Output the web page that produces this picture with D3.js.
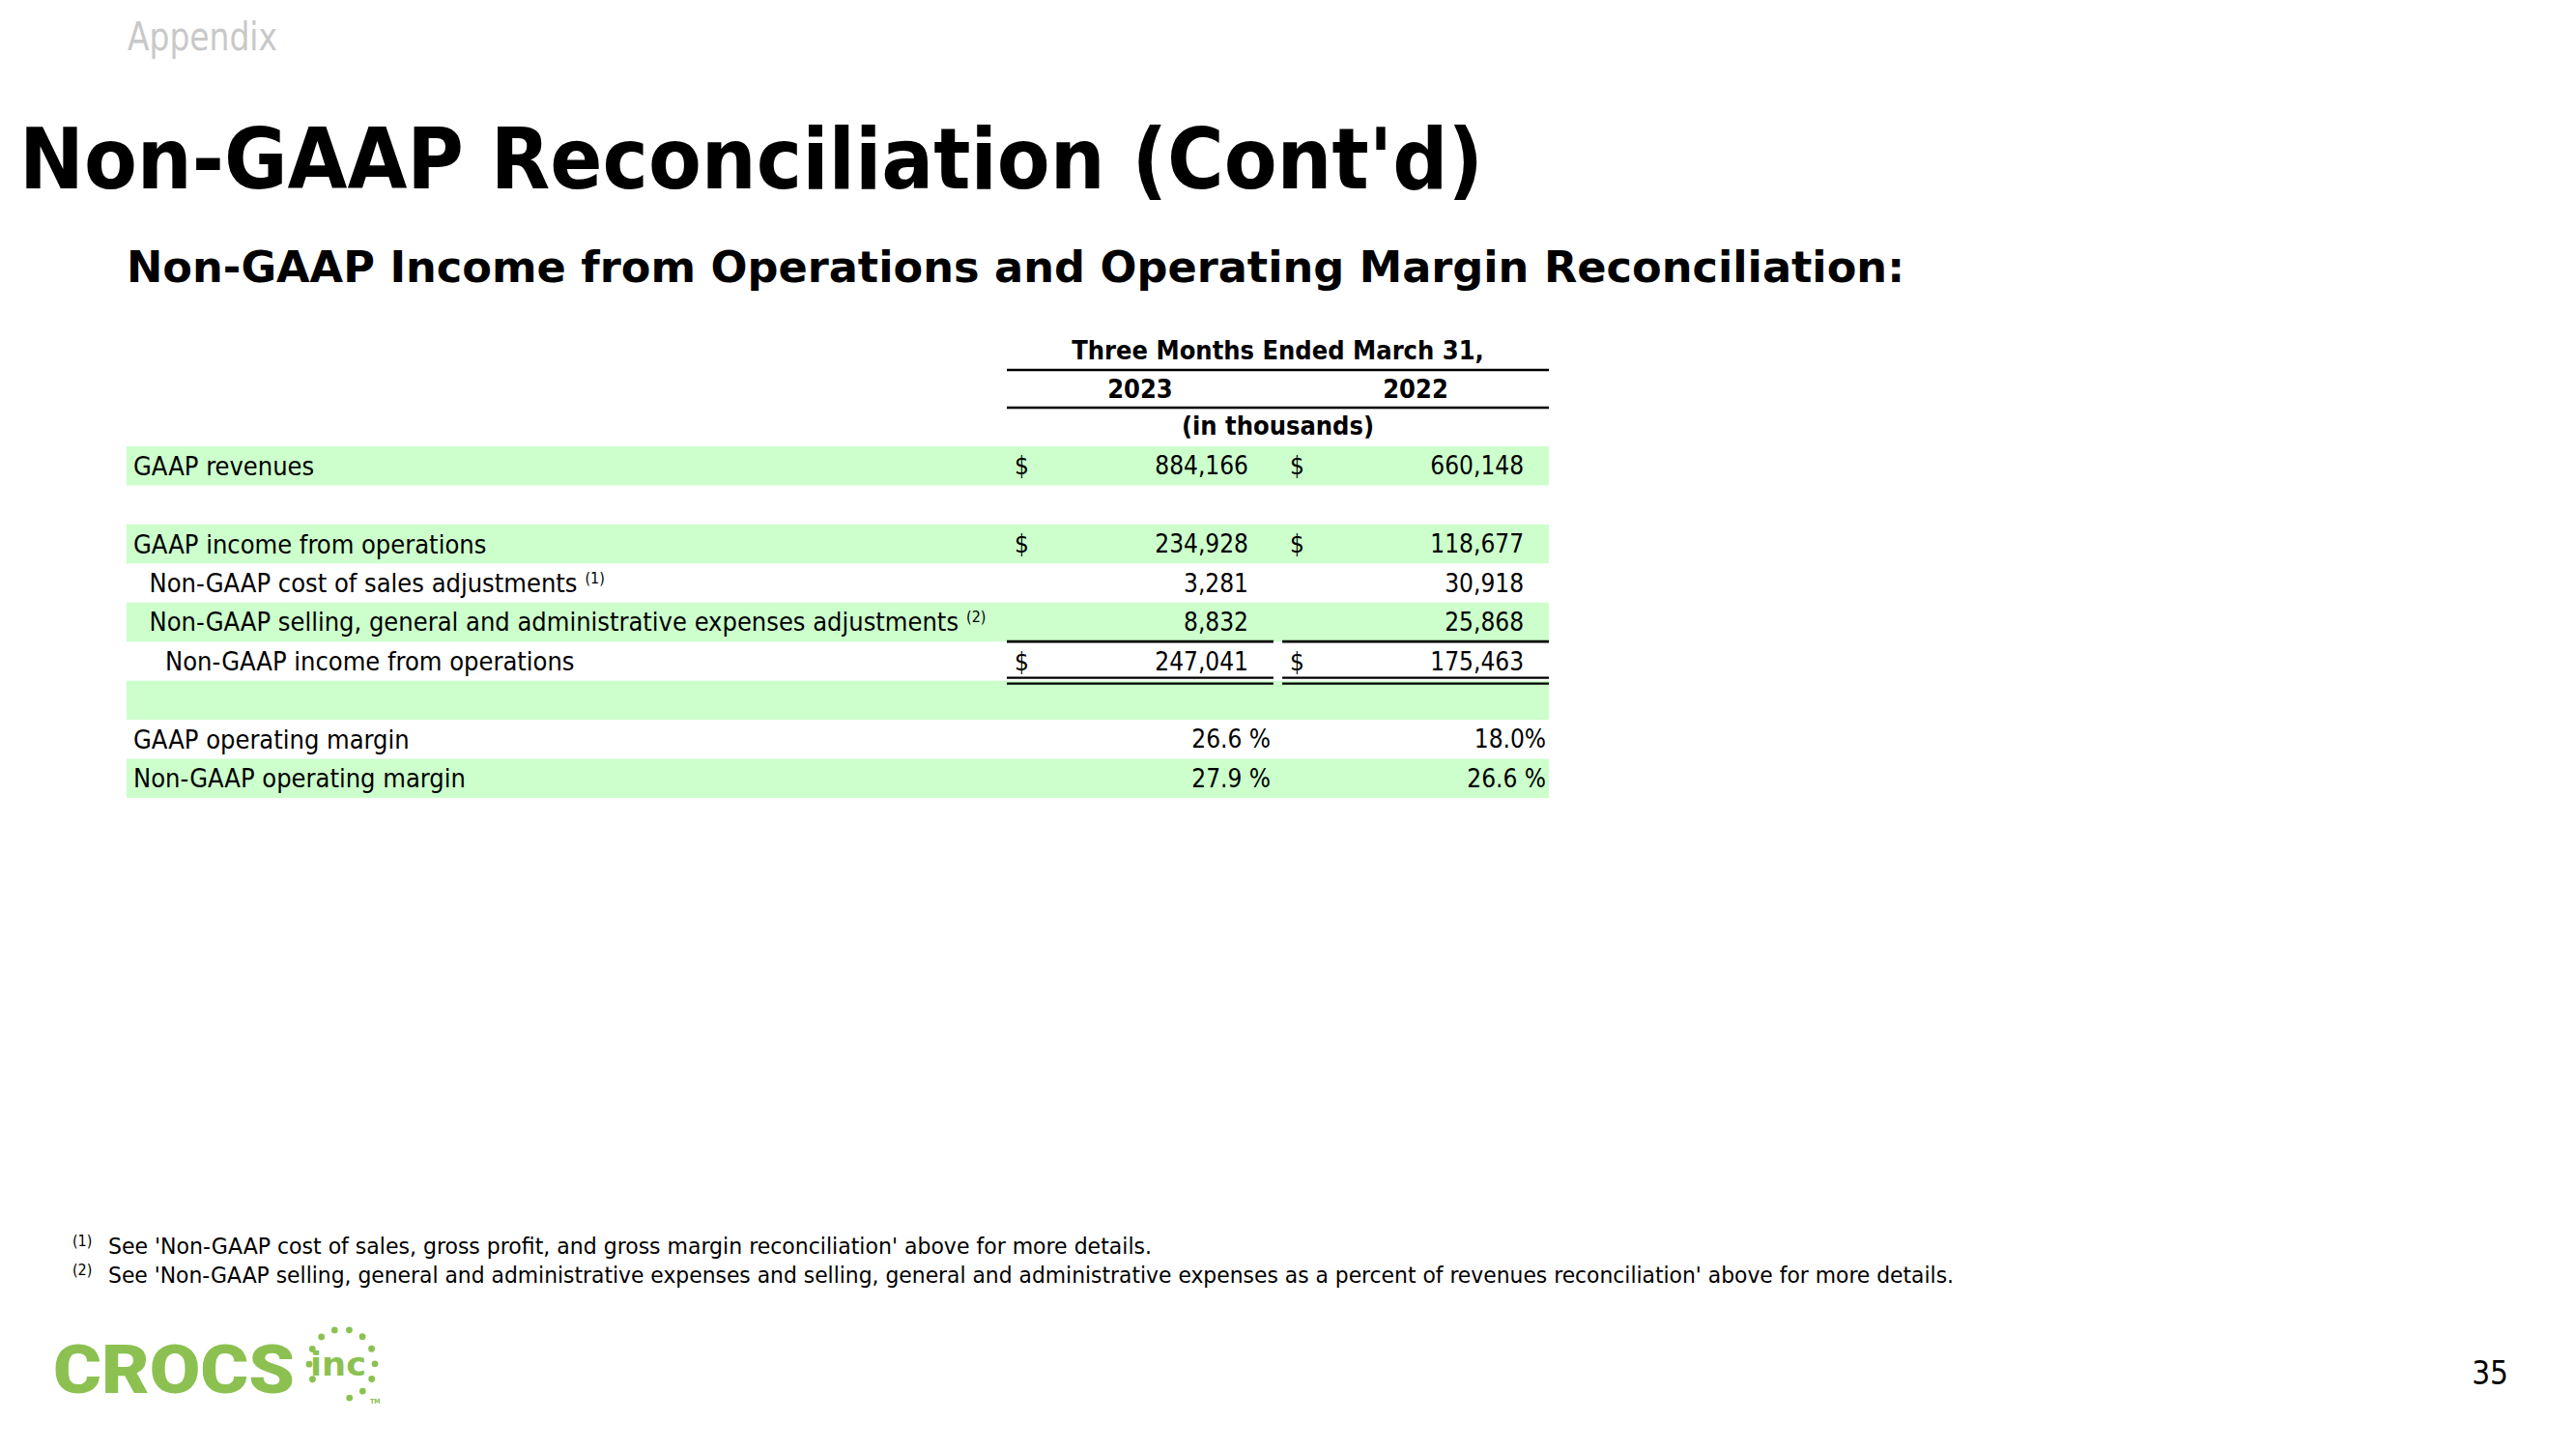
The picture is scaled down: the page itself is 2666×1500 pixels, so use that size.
<!DOCTYPE html>
<html>
<head>
    <script src="https://cdnjs.cloudflare.com/ajax/libs/d3/7.8.5/d3.min.js"></script>
    <style>
      body { margin: 0; background: #fff; }
      text { font-family: 'DejaVu Sans Condensed', 'DejaVu Sans', sans-serif; font-stretch: condensed; }
    </style>
</head>
<body>
    <svg id="slide" width="2666" height="1500"></svg>
    <script>
      // table data
      let years = ['2023', '2022']
      let rowLabels = [
        'GAAP revenues',
        '',
        'GAAP income from operations',
        'Non-GAAP cost of sales adjustments',
        'Non-GAAP selling, general and administrative expenses adjustments',
        'Non-GAAP income from operations',
        '',
        'GAAP operating margin',
        'Non-GAAP operating margin'
      ]
      let rowLevel = [0, 0, 0, 1, 1, 2, 0, 0, 0]
      let rowNote = ['', '', '', '(1)', '(2)', '', '', '', '']
      let rowDollar = [true, false, true, false, false, true, false, false, false]
      let values2023 = [884166, null, 234928, 3281, 8832, 247041, null, null, null]
      let values2022 = [660148, null, 118677, 30918, 25868, 175463, null, null, null]
      let margin2023 = [null, null, null, null, null, null, null, '26.6 %', '27.9 %']
      let margin2022 = [null, null, null, null, null, null, null, '18.0%', '26.6 %']
      let footnotes = [
        ['(1)', "See 'Non-GAAP cost of sales, gross profit, and gross margin reconciliation' above for more details."],
        ['(2)', "See 'Non-GAAP selling, general and administrative expenses and selling, general and administrative expenses as a percent of revenues reconciliation' above for more details."]
      ]

      let svg = d3.select('#slide')
      let fmt = d3.format(',')

      // squeeze a text to the width measured on the slide
      function fit(sel, w) {
        sel.attr('textLength', w).attr('lengthAdjust', 'spacingAndGlyphs')
        return sel
      }

      // header texts
      fit(svg.append('text').attr('x', 132).attr('y', 52)
        .style('font-size', '40px').style('fill', '#c8c8c8')
        .text('Appendix'), 155)

      fit(svg.append('text').attr('x', 20).attr('y', 195)
        .style('font-size', '87px').style('font-weight', 'bold')
        .text("Non-GAAP Reconciliation (Cont'd)"), 1515)

      fit(svg.append('text').attr('x', 131).attr('y', 292)
        .style('font-size', '44px').style('font-weight', 'bold')
        .text('Non-GAAP Income from Operations and Operating Margin Reconciliation:'), 1840)

      // scales
      let rowScale = d3.scaleBand().domain(d3.range(rowLabels.length)).range([462, 826])
      let colScale = d3.scaleBand().domain(years).range([1042, 1603]).paddingInner(0.032)
      let tableLeft = 131, tableRight = 1603

      // green bands on alternate rows
      svg.selectAll('rect.band')
        .data(rowLabels.map((d, i) => i).filter(i => i % 2 === 0))
        .enter()
        .append('rect')
        .attr('class', 'band')
        .attr('x', tableLeft)
        .attr('y', d => rowScale(d))
        .attr('width', tableRight - tableLeft)
        .attr('height', rowScale.bandwidth())
        .style('fill', '#ccffcc')

      // column headings
      let midX = (colScale('2023') + colScale('2022') + colScale.bandwidth()) / 2
      svg.append('text').attr('x', midX).attr('y', 372).attr('text-anchor', 'middle')
        .style('font-size', '27px').style('font-weight', 'bold')
        .text('Three Months Ended March 31,')
      svg.selectAll('text.year')
        .data(years)
        .enter()
        .append('text')
        .attr('class', 'year')
        .attr('x', d => colScale(d) + colScale.bandwidth() / 2)
        .attr('y', 412)
        .attr('text-anchor', 'middle')
        .style('font-size', '27px').style('font-weight', 'bold')
        .text(d => d)
      svg.append('text').attr('x', midX).attr('y', 450).attr('text-anchor', 'middle')
        .style('font-size', '27px').style('font-weight', 'bold')
        .text('(in thousands)')

      ;[383, 422].forEach(y => {
        svg.append('line').attr('x1', 1042).attr('x2', tableRight).attr('y1', y).attr('y2', y)
          .style('stroke', '#000').style('stroke-width', 2.5)
      })

      // row labels
      let labelG = svg.selectAll('g.label')
        .data(rowLabels)
        .enter()
        .append('g')
        .attr('class', 'label')
        .attr('transform', (d, i) => 'translate(' + (138 + rowLevel[i] * 16.5) + ',' + (rowScale(i) + rowScale.bandwidth() / 2) + ')')

      let labelText = labelG.append('text')
        .attr('dy', '0.35em')
        .style('font-size', '27px')
        .text(d => d)
      labelText.filter((d, i) => rowNote[i] !== '')
        .append('tspan')
        .attr('dx', 8)
        .attr('dy', -9)
        .style('font-size', '16px')
        .text(d => rowNote[rowLabels.indexOf(d)])

      // value cells
      let cols = [
        { year: '2023', values: values2023, margins: margin2023 },
        { year: '2022', values: values2022, margins: margin2022 }
      ]
      cols.forEach(c => {
        let x0 = colScale(c.year)
        rowLabels.forEach((label, i) => {
          let cy = rowScale(i) + rowScale.bandwidth() / 2
          if (rowDollar[i]) {
            svg.append('text').attr('x', x0 + 8).attr('y', cy).attr('dy', '0.35em')
              .style('font-size', '26px').text('$')
          }
          if (c.values[i] !== null) {
            svg.append('text').attr('x', x0 + 250).attr('y', cy).attr('dy', '0.35em')
              .attr('text-anchor', 'end')
              .style('font-size', '26px').text(fmt(c.values[i]))
          }
          if (c.margins[i] !== null) {
            svg.append('text').attr('x', x0 + 273).attr('y', cy).attr('dy', '0.35em')
              .attr('text-anchor', 'end')
              .style('font-size', '26px').text(c.margins[i])
          }
        })
        // subtotal rule and double underline
        let totalRow = 5
        let top = rowScale(totalRow), bottom = rowScale(totalRow) + rowScale.bandwidth()
        svg.append('line').attr('x1', x0).attr('x2', x0 + colScale.bandwidth())
          .attr('y1', top).attr('y2', top)
          .style('stroke', '#000').style('stroke-width', 2.7)
        ;[bottom - 3, bottom + 3].forEach(y => {
          svg.append('line').attr('x1', x0).attr('x2', x0 + colScale.bandwidth())
            .attr('y1', y).attr('y2', y)
            .style('stroke', '#000').style('stroke-width', 2.2)
        })
      })

      // footnotes
      let noteWidths = [1080, 1910]
      footnotes.forEach((f, i) => {
        let y = 1298 + i * 30
        svg.append('text').attr('x', 75).attr('y', y - 8)
          .style('font-size', '16px').text(f[0])
        fit(svg.append('text').attr('x', 112).attr('y', y)
          .style('font-size', '23px').text(f[1]), noteWidths[i])
      })

      // page number
      svg.append('text').attr('x', 2596).attr('y', 1433).attr('text-anchor', 'end')
        .style('font-size', '33px').text('35')

      // logo
      let logo = svg.append('g').style('fill', '#8cc152')
      fit(logo.append('text').attr('x', 55).attr('y', 1442)
        .style('font-family', 'Roboto, Arial, sans-serif').style('font-stretch', 'normal')
        .style('font-size', '70px').style('font-weight', 900)
        .text('CROCS'), 250)
      fit(logo.append('text').attr('x', 321).attr('y', 1424)
        .style('font-family', "'DejaVu Sans', sans-serif").style('font-stretch', 'normal')
        .style('font-size', '34px').style('font-weight', 'bold')
        .text('inc'), 58)
      logo.selectAll('circle')
        .data(d3.range(14).filter(k => k !== 7 && k !== 8))
        .enter()
        .append('circle')
        .attr('cx', k => 354 + 34 * Math.cos(-Math.PI / 2 + k * 2 * Math.PI / 14 + 0.22))
        .attr('cy', k => 1412 + 36 * Math.sin(-Math.PI / 2 + k * 2 * Math.PI / 14 + 0.22))
        .attr('r', 3.4)
      logo.append('text').attr('x', 383).attr('y', 1453)
        .style('font-size', '7px').style('font-weight', 'bold').text('TM')
    </script>
</body>
</html>
